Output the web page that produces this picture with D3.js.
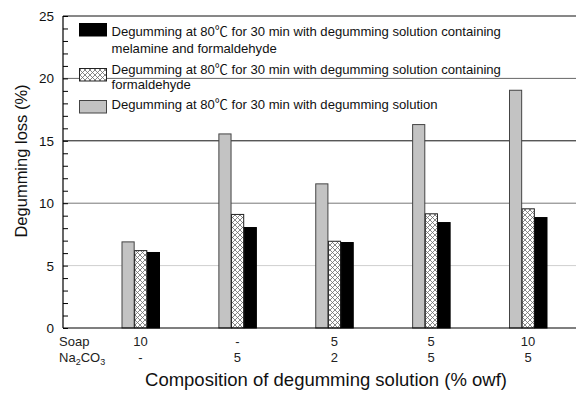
<!DOCTYPE html>
<html>
<head>
<meta charset="utf-8">
<script src="https://cdn.jsdelivr.net/npm/d3@7"></script>
<style>
  html, body { margin: 0; padding: 0; background: #fff; }
  svg { display: block; font-family: "Liberation Sans", Arial, sans-serif; }
  .deg { font-family: "Noto Sans CJK SC", "DejaVu Sans", sans-serif; }
</style>
</head>
<body>
<svg id="chart" width="576" height="396"></svg>
<script>
// Degumming loss for five degumming-solution compositions
const soapLabels = ["10", "-", "5", "5", "10"];
const na2co3Labels = ["-", "5", "2", "5", "5"];
const seriesKeys = ["plain", "formaldehyde", "melamine"];
const plainLoss = [6.9, 15.55, 11.55, 16.3, 19.05];
const formaldehydeLoss = [6.2, 9.1, 6.95, 9.15, 9.55];
const melamineLoss = [6.05, 8.05, 6.85, 8.45, 8.85];
const yTicks = [0, 5, 10, 15, 20, 25];
// each legend entry: text lines, "{C}" marks the degree-Celsius sign
const legendLines = [
  ["Degumming at 80{C} for 30 min with degumming solution containing", "melamine and formaldehyde"],
  ["Degumming at 80{C} for 30 min with degumming solution containing", "formaldehyde"],
  ["Degumming at 80{C} for 30 min with degumming solution"]
];

const groups = soapLabels.map((s, i) => ({
  i,
  values: { plain: plainLoss[i], formaldehyde: formaldehydeLoss[i], melamine: melamineLoss[i] }
}));

const svg = d3.select("#chart");
const plotLeft = 63, plotRight = 576, plotTop = 16, plotBottom = 328;

// pattern definitions
const defs = svg.append("defs");
const hatch = defs.append("pattern")
  .attr("id", "hatch").attr("patternUnits", "userSpaceOnUse")
  .attr("width", 5).attr("height", 5);
hatch.append("rect").attr("width", 5).attr("height", 5).attr("fill", "#fff");
hatch.append("path").attr("d", "M0,0 L5,5 M5,0 L0,5 M-1,4 L1,6 M4,-1 L6,1 M-1,1 L1,-1 M4,6 L6,4")
  .attr("stroke", "#6a6a6a").attr("stroke-width", 0.8);

const fills = { plain: "#c3c3c3", formaldehyde: "url(#hatch)", melamine: "#000" };
const strokes = { plain: "#444", formaldehyde: "#222", melamine: "#000" };

const y = d3.scaleLinear().domain([0, 25]).range([plotBottom, plotTop]);
const x = d3.scalePoint().domain(d3.range(groups.length)).range([140.5, 528]);
const xInner = d3.scaleBand().domain(seriesKeys).range([-19, 19]).padding(0);

// horizontal grid lines at major ticks
const gridColors = { 5: "#cfcfcf", 10: "#777", 15: "#111", 20: "#666", 25: "#111" };
svg.append("g").selectAll("line")
  .data(yTicks.filter(t => t > 0))
  .join("line")
  .attr("x1", plotLeft).attr("x2", plotRight)
  .attr("y1", d => y(d)).attr("y2", d => y(d))
  .attr("stroke", d => gridColors[d]).attr("stroke-width", 1);

// minor ticks, pointing into the plot
const yAxis = d3.axisRight(y).tickValues(d3.range(0, 26, 1)).tickSize(5).tickFormat("");
const ya = svg.append("g").attr("transform", `translate(${plotLeft},0)`).call(yAxis);
ya.select(".domain").remove();
ya.selectAll("line").attr("stroke", "#000");

// tick labels
svg.append("g").selectAll("text")
  .data(yTicks).join("text")
  .attr("x", 54).attr("y", d => y(d) + 5)
  .attr("text-anchor", "end").attr("font-size", 13.5).attr("fill", "#111")
  .text(d => d);

// bars
const gBars = svg.append("g");
groups.forEach(g => {
  gBars.selectAll(null)
    .data(seriesKeys.map(k => ({ k, v: g.values[k] })))
    .join("rect")
    .attr("x", d => x(g.i) + xInner(d.k) + 0.5)
    .attr("y", d => y(d.v))
    .attr("width", xInner.bandwidth() - 0.5)
    .attr("height", d => y(0) - y(d.v))
    .attr("fill", d => fills[d.k])
    .attr("stroke", d => strokes[d.k])
    .attr("stroke-width", 1);
});

// axis lines
svg.append("line").attr("x1", plotLeft).attr("x2", plotLeft).attr("y1", plotTop).attr("y2", plotBottom)
  .attr("stroke", "#000").attr("stroke-width", 1.2);
svg.append("line").attr("x1", plotLeft).attr("x2", plotRight).attr("y1", plotBottom).attr("y2", plotBottom)
  .attr("stroke", "#000").attr("stroke-width", 1.2);

// composition rows under the axis
const rowSoapY = 346, rowNaY = 362;
svg.append("text").attr("x", 59).attr("y", rowSoapY).attr("font-size", 13).attr("fill", "#222").text("Soap");
const na = svg.append("text").attr("x", 59).attr("y", rowNaY).attr("font-size", 13).attr("fill", "#222");
na.append("tspan").text("Na");
na.append("tspan").attr("font-size", 9).attr("dy", 3).text("2");
na.append("tspan").attr("dy", -3).text("CO");
na.append("tspan").attr("font-size", 9).attr("dy", 3).text("3");

svg.append("g").selectAll("text").data(groups).join("text")
  .attr("x", d => x(d.i)).attr("y", rowSoapY)
  .attr("text-anchor", "middle").attr("font-size", 13).attr("fill", "#222")
  .text(d => soapLabels[d.i]);
svg.append("g").selectAll("text").data(groups).join("text")
  .attr("x", d => x(d.i)).attr("y", rowNaY)
  .attr("text-anchor", "middle").attr("font-size", 13).attr("fill", "#222")
  .text(d => na2co3Labels[d.i]);

// axis titles
svg.append("text").attr("x", 326).attr("y", 386)
  .attr("text-anchor", "middle").attr("font-size", 18.5).attr("fill", "#111")
  .text("Composition of degumming solution (% owf)");
svg.append("text")
  .attr("transform", "translate(27,161) rotate(-90)")
  .attr("text-anchor", "middle").attr("font-size", 16.5).attr("fill", "#111")
  .text("Degumming loss (%)");

// legend
const legendKeys = ["melamine", "formaldehyde", "plain"];
const swatchY = [23.5, 68.5, 100.5];
const lineBaselines = [[35.5, 52.5], [73.5, 89], [109]];
const lg = svg.append("g");
legendKeys.forEach((k, i) => {
  lg.append("rect").attr("x", 79.5).attr("y", swatchY[i])
    .attr("width", 27).attr("height", 12.5)
    .attr("fill", fills[k]).attr("stroke", strokes[k]).attr("stroke-width", 1);
  legendLines[i].forEach((line, j) => {
    const t = lg.append("text").attr("x", 111.5).attr("y", lineBaselines[i][j])
      .attr("font-size", 13.1).attr("fill", "#111");
    line.split("{C}").forEach((part, p) => {
      if (p > 0) t.append("tspan").attr("class", "deg").text("\u2103");
      t.append("tspan").text(part);
    });
  });
});
</script>
</body>
</html>
